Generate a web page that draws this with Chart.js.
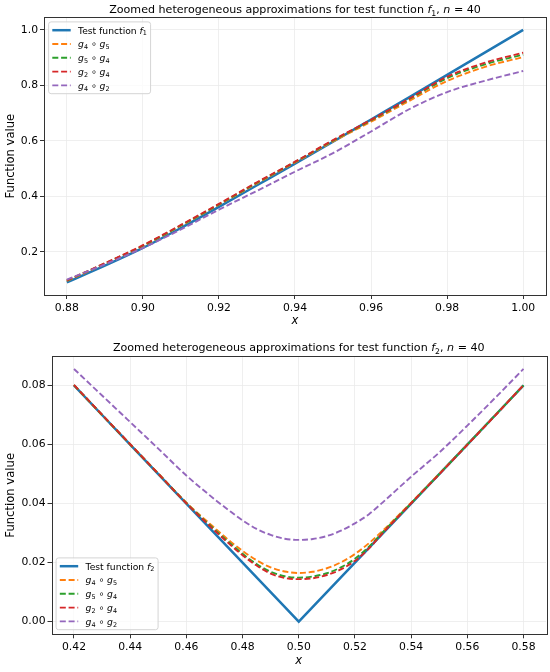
<!DOCTYPE html>
<html>
<head>
<meta charset="UTF-8">
<title>Zoomed heterogeneous approximations</title>
<script src="https://cdn.jsdelivr.net/npm/chart.js@4.4.1/dist/chart.umd.min.js"></script>
<style>
  body { margin: 0; background: #fff; }
  .box { position: absolute; left: 0; width: 550px; height: 336px; }
</style>
</head>
<body>
<div class="box" style="top:0"><canvas id="chart1"></canvas></div>
<div class="box" style="top:336px"><canvas id="chart2"></canvas></div>
<script>
// test function f1, zoomed on [0.88, 1.00]
var x1 = [0.88, 0.89, 0.90, 0.91, 0.92, 0.93, 0.94, 0.95, 0.96, 0.97, 0.98, 0.99, 1.00];
var f1 = [0.090, 0.150, 0.214, 0.286, 0.362, 0.440, 0.518, 0.597, 0.677, 0.757, 0.838, 0.919, 1.000];
var f1_g4g5 = [0.095, 0.157, 0.221, 0.294, 0.370, 0.447, 0.522, 0.598, 0.669, 0.744, 0.816, 0.867, 0.902];
var f1_g5g4 = [0.096, 0.158, 0.222, 0.295, 0.371, 0.449, 0.524, 0.601, 0.674, 0.750, 0.826, 0.876, 0.911];
var f1_g2g4 = [0.097, 0.159, 0.224, 0.297, 0.373, 0.451, 0.525, 0.603, 0.676, 0.752, 0.831, 0.882, 0.918];
var f1_g4g2 = [0.100, 0.155, 0.214, 0.281, 0.352, 0.420, 0.489, 0.556, 0.634, 0.714, 0.776, 0.817, 0.852];
var x1TickLabels = ['0.88', '0.90', '0.92', '0.94', '0.96', '0.98', '1.00'];
var y1TickLabels = ['0.2', '0.4', '0.6', '0.8', '1.0'];

// test function f2, zoomed on [0.42, 0.58]
var x2 = [0.42, 0.43, 0.44, 0.45, 0.46, 0.47, 0.475, 0.48, 0.485, 0.49, 0.495, 0.50,
          0.505, 0.51, 0.515, 0.52, 0.525, 0.53, 0.54, 0.55, 0.56, 0.57, 0.58];
var f2 = [0.080, 0.070, 0.060, 0.050, 0.040, 0.030, 0.025, 0.020, 0.015, 0.010, 0.005, 0.000,
          0.005, 0.010, 0.015, 0.020, 0.025, 0.030, 0.040, 0.050, 0.060, 0.070, 0.080];
var f2_g4g5 = [0.0801, 0.0700, 0.0601, 0.0502, 0.0403, 0.0318, 0.0277, 0.0240, 0.0208, 0.0184, 0.0170, 0.0165,
               0.0169, 0.0181, 0.0201, 0.0229, 0.0266, 0.0309, 0.0403, 0.0501, 0.0600, 0.0700, 0.0801];
var f2_g5g4 = [0.0801, 0.0700, 0.0600, 0.0501, 0.0402, 0.0312, 0.0270, 0.0230, 0.0195, 0.0169, 0.0154, 0.0149,
               0.0153, 0.0164, 0.0184, 0.0213, 0.0254, 0.0304, 0.0401, 0.0500, 0.0600, 0.0700, 0.0800];
var f2_g2g4 = [0.0802, 0.0701, 0.0601, 0.0501, 0.0401, 0.0309, 0.0266, 0.0225, 0.0190, 0.0163, 0.0148, 0.0144,
               0.0147, 0.0158, 0.0177, 0.0206, 0.0248, 0.0301, 0.0401, 0.0499, 0.0599, 0.0699, 0.0801];
var f2_g4g2 = [0.0856, 0.0766, 0.0676, 0.0586, 0.0495, 0.0415, 0.0378, 0.0343, 0.0314, 0.0294, 0.0281, 0.0277,
               0.0280, 0.0290, 0.0308, 0.0333, 0.0364, 0.0405, 0.0491, 0.0573, 0.0664, 0.0759, 0.0856];
var x2TickLabels = ['0.42', '0.44', '0.46', '0.48', '0.50', '0.52', '0.54', '0.56', '0.58'];
var y2TickLabels = ['0.00', '0.02', '0.04', '0.06', '0.08'];

var labels1 = ['Test function $f_1$', '$g_4 \\circ g_5$', '$g_5 \\circ g_4$', '$g_2 \\circ g_4$', '$g_4 \\circ g_2$'];
var labels2 = ['Test function $f_2$', '$g_4 \\circ g_5$', '$g_5 \\circ g_4$', '$g_2 \\circ g_4$', '$g_4 \\circ g_2$'];
var title1 = 'Zoomed heterogeneous approximations for test function $f_1$, $n=40$';
var title2 = 'Zoomed heterogeneous approximations for test function $f_2$, $n=40$';
var colors = ['#1f77b4', '#ff7f0e', '#2ca02c', '#d62728', '#9467bd'];

var FONT = 'DejaVu Sans';
Chart.defaults.font.family = FONT;
Chart.defaults.color = '#000';

// tiny mathtext: $...$ gives italic letters, _x subscripts, \circ
function parseRich(str) {
  var segs = [];
  str.split('$').forEach(function (p, k) {
    if (k % 2 === 0) { if (p) segs.push({ t: p }); return; }
    p = p.replace(/\\circ/g, '\u2218');
    for (var i = 0; i < p.length; i++) {
      var c = p[i];
      if (c === ' ') continue;
      if (c === '_') { segs.push({ t: p[++i], sub: true }); continue; }
      if (c === '=' || c === '\u2218') segs.push({ t: ' ' + c + ' ' });
      else if (/[a-zA-Z]/.test(c)) segs.push({ t: c, it: true });
      else segs.push({ t: c });
    }
  });
  return segs;
}
function segFont(s, size) {
  return (s.it ? 'italic ' : '') + (s.sub ? size * 0.7 : size) + 'px "' + FONT + '"';
}
function richWidth(ctx, str, size) {
  var w = 0;
  parseRich(str).forEach(function (s) { ctx.font = segFont(s, size); w += ctx.measureText(s.t).width; });
  return w;
}
function drawRich(ctx, str, x, cy, size, align) {
  var w = richWidth(ctx, str, size);
  if (align === 'center') x -= w / 2;
  var base = cy + size * 0.365;
  ctx.textAlign = 'left';
  ctx.textBaseline = 'alphabetic';
  ctx.fillStyle = '#000';
  parseRich(str).forEach(function (s) {
    ctx.font = segFont(s, size);
    ctx.fillText(s.t, x, s.sub ? base + size * 0.2 : base);
    x += ctx.measureText(s.t).width;
  });
}

// frame, title and legend the way matplotlib draws them
var mplPlugin = {
  id: 'mpl',
  afterDraw: function (chart, args, opts) {
    var ctx = chart.ctx, a = chart.chartArea;
    ctx.save();
    ctx.strokeStyle = '#333';
    ctx.lineWidth = 1;
    ctx.strokeRect(Math.round(a.left) + 0.5, Math.round(a.top) + 0.5,
                   Math.round(a.right - a.left), Math.round(a.bottom - a.top));
    drawRich(ctx, opts.title, (a.left + a.right) / 2, opts.titleY, 11.1, 'center');

    var fs = 9.2, pad = 3.7, hl = 18.4, htp = 7.4, gap = 4.6, inset = 4.6;
    var ds = chart.data.datasets;
    var tw = 0;
    ds.forEach(function (d) { tw = Math.max(tw, richWidth(ctx, d.label, fs)); });
    var w = pad * 2 + hl + htp + tw;
    var h = pad * 2 + ds.length * fs + (ds.length - 1) * gap;
    var x0 = a.left + inset;
    var y0 = opts.legend === 'top' ? a.top + inset : a.bottom - inset - h;
    ctx.beginPath();
    ctx.roundRect(x0, y0, w, h, 2.5);
    ctx.fillStyle = 'rgba(255,255,255,0.8)';
    ctx.fill();
    ctx.strokeStyle = '#d0d0d0';
    ctx.lineWidth = 0.9;
    ctx.stroke();
    ds.forEach(function (d, i) {
      var cy = y0 + pad + fs / 2 + i * (fs + gap);
      ctx.beginPath();
      ctx.setLineDash(d.borderDash || []);
      ctx.strokeStyle = d.borderColor;
      ctx.lineWidth = d.borderWidth;
      ctx.moveTo(x0 + pad, cy);
      ctx.lineTo(x0 + pad + hl, cy);
      ctx.stroke();
      ctx.setLineDash([]);
      drawRich(ctx, d.label, x0 + pad + hl + htp, cy, fs, 'left');
    });
    ctx.restore();
  }
};

function series(xs, ys, label, i, smooth) {
  var dashed = i > 0;
  return {
    label: label,
    data: xs.map(function (x, k) { return { x: x, y: ys[k] }; }),
    borderColor: colors[i],
    backgroundColor: colors[i],
    borderWidth: dashed ? 1.9 : 2.5,
    borderDash: dashed ? [6, 2.8] : [],
    pointRadius: 0,
    fill: false,
    cubicInterpolationMode: smooth ? 'monotone' : 'default',
    tension: 0,
    order: 5 - i
  };
}

function range(arrs) {
  var lo = Infinity, hi = -Infinity;
  arrs.forEach(function (a) { a.forEach(function (v) { lo = Math.min(lo, v); hi = Math.max(hi, v); }); });
  var m = (hi - lo) * 0.05;
  return [lo - m, hi + m];
}

function makeChart(id, xs, ys, labels, xTicks, yTicks, cfg) {
  var xr = range([xs]), yr = range(ys);
  var data = ys.map(function (y, i) { return series(xs, y, labels[i], i, i > 0 || cfg.smoothMain); });
  var gridOpt = { color: '#ebebeb', lineWidth: 0.8, tickColor: '#333', tickLength: 4, tickWidth: 1 };
  return new Chart(document.getElementById(id), {
    type: 'line',
    data: { datasets: data },
    plugins: [mplPlugin],
    options: {
      animation: false,
      responsive: true,
      maintainAspectRatio: false,
      layout: { padding: { top: cfg.top, right: 4, left: 0, bottom: 0 } },
      plugins: {
        legend: { display: false },
        tooltip: { enabled: false },
        mpl: { title: cfg.title, titleY: cfg.titleY, legend: cfg.legend }
      },
      scales: {
        x: {
          type: 'linear', min: xr[0], max: xr[1],
          afterBuildTicks: function (s) { s.ticks = xTicks.map(function (t) { return { value: parseFloat(t) }; }); },
          afterFit: function (s) { s.height = cfg.xh; },
          ticks: {
            padding: 2.5, font: { size: 10.8 }, color: '#000',
            callback: function (v, k) { return xTicks[k]; }
          },
          grid: gridOpt,
          border: { display: false },
          title: { display: true, text: 'x', font: { size: 11.6, style: 'italic' }, padding: { top: 0, bottom: cfg.xtPad } }
        },
        y: {
          type: 'linear', min: yr[0], max: yr[1],
          afterBuildTicks: function (s) { s.ticks = yTicks.map(function (t) { return { value: parseFloat(t) }; }); },
          afterFit: function (s) { s.width = cfg.yw; },
          ticks: {
            padding: 2, font: { size: 10.8 }, color: '#000',
            callback: function (v, k) { return yTicks[k]; }
          },
          grid: gridOpt,
          border: { display: false },
          title: { display: true, text: 'Function value', font: { size: 11.6 }, padding: { top: 4, bottom: 0 } }
        }
      }
    }
  });
}

makeChart('chart1', x1, [f1, f1_g4g5, f1_g5g4, f1_g2g4, f1_g4g2], labels1, x1TickLabels, y1TickLabels,
  { title: title1, titleY: 9.3, legend: 'top', top: 17.3, xh: 41, yw: 44, xtPad: 7.6, smoothMain: true });
makeChart('chart2', x2, [f2, f2_g4g5, f2_g5g4, f2_g2g4, f2_g4g2], labels2, x2TickLabels, y2TickLabels,
  { title: title2, titleY: 11.3, legend: 'bottom', top: 20.3, xh: 37.7, yw: 51.5, xtPad: 4.3, smoothMain: false });
</script>
</body>
</html>
